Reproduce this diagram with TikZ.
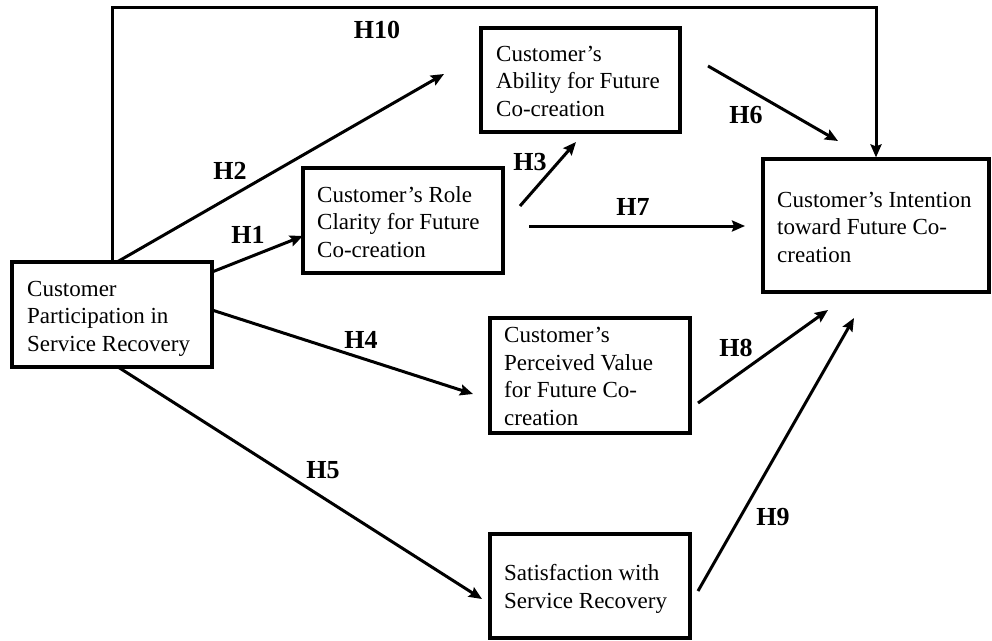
\documentclass[tikz,border=0pt]{standalone}
\usepackage{fontspec}
\setmainfont{Liberation Serif}
\usetikzlibrary{arrows.meta}
\begin{document}
\begin{tikzpicture}[x=1pt,y=-1pt,
  box/.style={draw,line width=3.2pt,inner sep=0pt},
  txt/.style={font=\fontsize{23}{27.5}\selectfont,align=left,anchor=base west,inner sep=0pt},
  lab/.style={font=\fontsize{26}{30}\selectfont\bfseries,inner sep=0pt},
  arr/.style={line width=3pt,-{Stealth[length=13pt,width=11pt,inset=2pt]}}]
\useasboundingbox (0,0) rectangle (992,640);
% boxes
\node[box,minimum width=200pt,minimum height=105pt] (cp) at (112,314.5) {};
\node[box,minimum width=200pt,minimum height=105pt] (role) at (403,220.5) {};
\node[box,minimum width=199pt,minimum height=104pt] (abil) at (580.5,80) {};
\node[box,minimum width=226pt,minimum height=133pt] (intent) at (876,225.5) {};
\node[box,minimum width=200pt,minimum height=115pt] (perc) at (590,375.5) {};
\node[box,minimum width=200pt,minimum height=104pt] (sat) at (590,586) {};
% texts (anchored at the baseline of the last line)
\node[txt] (cpt) at (27,351) {Customer\\Participation in\\Service Recovery};
\node[txt] (rolet) at (317,257) {Customer’s Role\\Clarity for Future\\Co-creation};
\node[txt] (abilt) at (496,116) {Customer’s\\Ability for Future\\Co-creation};
\node[txt] (intentt) at (777,262) {Customer’s Intention\\toward Future Co-\\creation};
\node[txt] (perct) at (504,425) {Customer’s\\Perceived Value\\for Future Co-\\creation};
\node[txt] (satt) at (504,608) {Satisfaction with\\Service Recovery};
% arrow end points
\coordinate (h2s) at (117,262);  \coordinate (h2e) at (444,74);
\coordinate (h1s) at (212,272);  \coordinate (h1e) at (303,236);
\coordinate (h3s) at (520,206);  \coordinate (h3e) at (576,142);
\coordinate (h7s) at (529,226);  \coordinate (h7e) at (745,226);
\coordinate (h6s) at (708,66);   \coordinate (h6e) at (838,141);
\coordinate (h4s) at (212,310);  \coordinate (h4e) at (473,394);
\coordinate (h5s) at (118,367);  \coordinate (h5e) at (482,599);
\coordinate (h8s) at (698,403);  \coordinate (h8e) at (828,310);
\coordinate (h9s) at (698,591);  \coordinate (h9e) at (854,318);
% connectors
\draw[arr] (cp.north) -- ++(0,-253) -| (intent.north);
\draw[arr] (h2s) -- (h2e);
\draw[arr] (h1s) -- (h1e);
\draw[arr] (h3s) -- (h3e);
\draw[arr] (h7s) -- (h7e);
\draw[arr] (h6s) -- (h6e);
\draw[arr] (h4s) -- (h4e);
\draw[arr] (h5s) -- (h5e);
\draw[arr] (h8s) -- (h8e);
\draw[arr] (h9s) -- (h9e);
% labels
\node[lab] (l10) at (377,30) {H10};
\node[lab] (l2) at (230,171) {H2};
\node[lab] (l1) at (248,235) {H1};
\node[lab] (l3) at (530,162) {H3};
\node[lab] (l7) at (633,207) {H7};
\node[lab] (l6) at (746,115) {H6};
\node[lab] (l4) at (361,340) {H4};
\node[lab] (l5) at (323,470) {H5};
\node[lab] (l8) at (736,348) {H8};
\node[lab] (l9) at (773,517) {H9};
\end{tikzpicture}
\end{document}
